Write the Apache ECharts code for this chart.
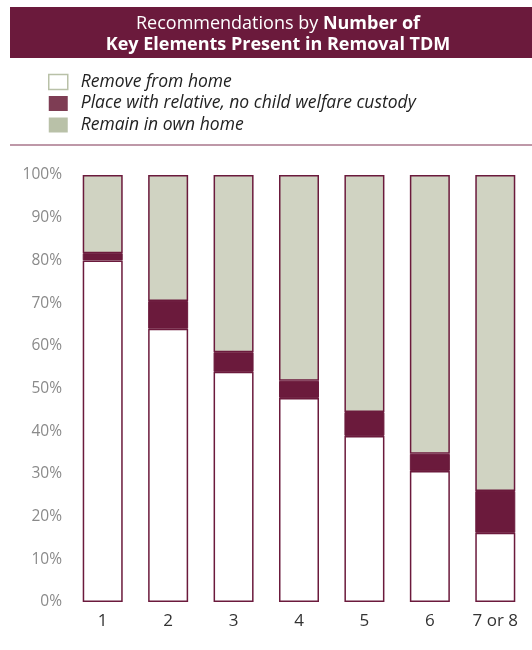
<!DOCTYPE html>
<html><head><meta charset="utf-8">
<script src="https://cdn.jsdelivr.net/npm/echarts@6/dist/echarts.min.js"></script>
<style>html,body{margin:0;padding:0;background:#fff}#c{width:532px;height:650px}</style>
</head><body><div id="c"></div>
<script>
const categories = ['1','2','3','4','5','6','7 or 8'];
const removeFromHome = [80.0, 64.0, 53.9, 47.8, 38.9, 30.7, 16.2];
const placeWithRelative = [1.7, 6.5, 4.6, 4.0, 5.6, 4.0, 9.8];
const remainInOwnHome = [18.3, 29.5, 41.5, 48.2, 55.5, 65.3, 74.0];
const yTicks = [0,10,20,30,40,50,60,70,80,90,100];

const DARK = '#6b1a3c';
const chart = echarts.init(document.getElementById('c'), null, {renderer:'canvas'});
const font = '"Open Sans", "Noto Sans", sans-serif';
chart.setOption({
  animation:false,
  backgroundColor:'#fff',
  graphic:[
    {type:'rect', shape:{x:10,y:7,width:522,height:51}, style:{fill:DARK}, z:0},
    {type:'line', shape:{x1:10,y1:145,x2:532,y2:145}, style:{stroke:'#7e3352',lineWidth:1.2}}
  ],
  title:{
    text:'Recommendations by {b|Number of}\n{b|Key Elements Present in Removal TDM}',
    left:273, top:8, textAlign:'center',
    textStyle:{color:'#fff', fontFamily:font, fontSize:18, fontWeight:'normal', lineHeight:21,
      rich:{b:{color:'#fff', fontFamily:font, fontSize:18, fontWeight:'bold', lineHeight:21}}}
  },
  legend:{
    orient:'vertical', left:43, top:68, itemWidth:19, itemHeight:15, itemGap:3.5,
    textStyle:{fontFamily:font, fontSize:17.5, fontStyle:'italic', color:'#222', lineHeight:15, padding:[0,0,0,8]},
    selectedMode:false,
    data:[
      {name:'Remove from home', icon:'rect', itemStyle:{color:'#fff', borderColor:'#b9c1a8', borderWidth:1.5}},
      {name:'Place with relative, no child welfare custody', icon:'rect', itemStyle:{color:'#7e3d54', borderWidth:0}},
      {name:'Remain in own home', icon:'rect', itemStyle:{color:'#b9c1a8', borderWidth:0}}
    ]
  },
  grid:{left:70, right:4, top:175, bottom:48},
  xAxis:{
    type:'category', data:categories,
    axisLine:{show:false}, axisTick:{show:false},
    axisLabel:{color:'#333', fontFamily:font, fontSize:17, margin:11}
  },
  yAxis:{
    type:'value', min:0, max:100, interval:10,
    axisLine:{show:false}, axisTick:{show:false}, splitLine:{show:false},
    axisLabel:{color:'#8a8a8a', fontFamily:font, fontSize:15.5, margin:8,
      formatter:v => yTicks.includes(v) ? v + '%' : ''}
  },
  series:[
    {name:'Remove from home', type:'bar', stack:'s', barWidth:40, data:removeFromHome,
      itemStyle:{color:'#fff', borderColor:DARK, borderWidth:1.5}},
    {name:'Place with relative, no child welfare custody', type:'bar', stack:'s', barWidth:40, data:placeWithRelative,
      itemStyle:{color:DARK, borderColor:DARK, borderWidth:1}},
    {name:'Remain in own home', type:'bar', stack:'s', barWidth:40, data:remainInOwnHome,
      itemStyle:{color:'#d0d3c2', borderColor:DARK, borderWidth:1.5}}
  ]
});
</script></body></html>
